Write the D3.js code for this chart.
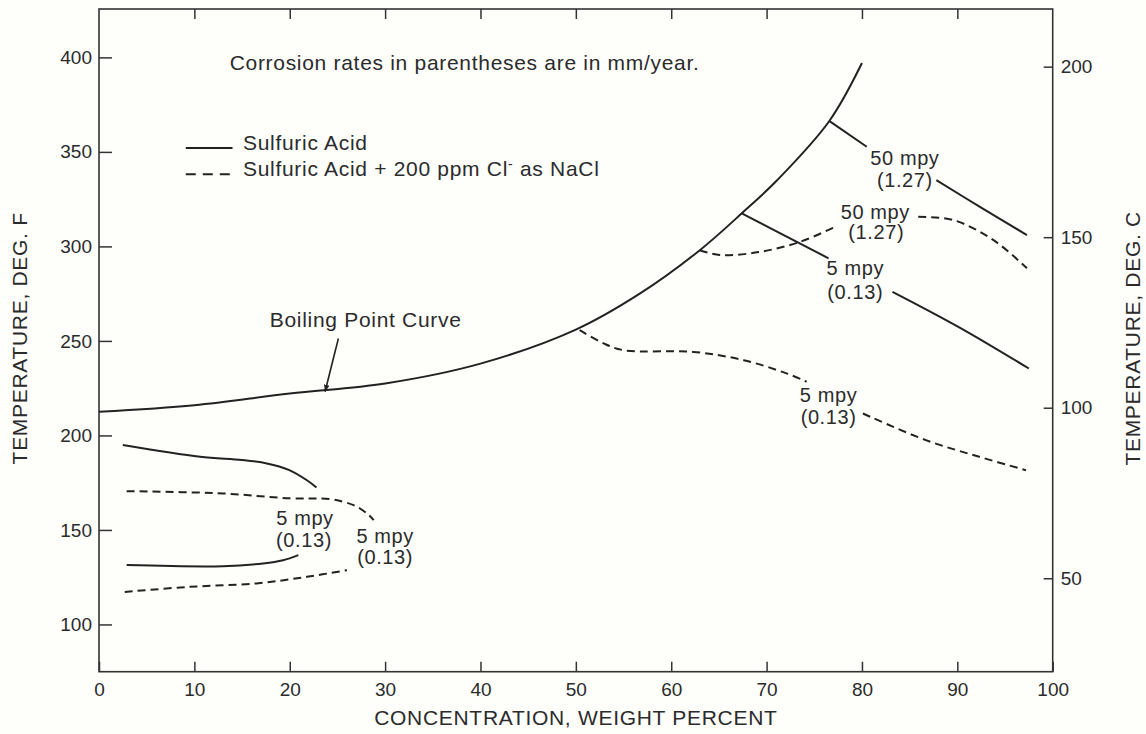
<!DOCTYPE html>
<html>
<meta http-equiv="content-type" content="text/html; charset=utf-8" />
<head>
    <title>Sulfuric acid corrosion</title>
</head>

<style>
body {
  margin: 0;
  background: #fefefb;
}
.chart text {
  font-family: "Liberation Sans", Arial, sans-serif;
  fill: #2b2b2b;
}
.axis text {
  font-size: 19px;
}
.axis path {
  display: none;
}
.axis line {
  stroke: #333;
  stroke-width: 1.5;
}
.frame {
  fill: none;
  stroke: #333;
  stroke-width: 1.6;
}
.curve {
  fill: none;
  stroke: #222;
  stroke-width: 2;
}
.curve.dashed {
  stroke-dasharray: 8,5;
}
.note {
  font-size: 20px;
  letter-spacing: 0.6px;
}
.title {
  font-size: 21px;
  letter-spacing: 0.7px;
}
</style>

<svg class="chart"></svg>
<script src="https://d3js.org/d3.v7.min.js"></script>

<script type="text/javascript">
// tick values
var concTicks = [0, 10, 20, 30, 40, 50, 60, 70, 80, 90, 100];
var topTicks = [10, 20, 30, 40, 50, 60, 70, 80, 90];
var tempFTicks = [100, 150, 200, 250, 300, 350, 400];
var tempCTicks = [50, 100, 150, 200];

// boiling point curve: concentration (wt %) -> temperature (deg F)
var boilConc = [0, 10, 20, 30, 40, 50, 56.7, 63, 67.4, 71.1, 76.6, 80];
var boilTemp = [212.5, 216, 222.2, 227.5, 238, 256, 275, 298, 317.5, 335, 366.5, 397];

// sulfuric acid iso-corrosion lines, [conc, deg F], split where the labels sit
var acid50a = [[76.6, 366.3], [80.5, 352.7]];
var acid50b = [[87.8, 335.1], [92.5, 320.5], [97.3, 306.0]];
var acid5a = [[67.4, 317.5], [76.5, 293.7]];
var acid5b = [[83.2, 276.0], [90.2, 257.2], [97.5, 235.4]];
var acidLowTop = [[2.5, 194.9], [10.6, 188.7], [15.0, 187.0], [17.6, 185.2], [19.9, 181.8], [21.8, 176.3], [22.8, 172.5]];
var acidLowBottom = [[2.9, 131.4], [13.0, 130.8], [17.2, 132.3], [19.3, 134.0], [20.9, 136.7]];

// sulfuric acid + 200 ppm Cl- lines
var chl50a = [[63.0, 298.0], [65.1, 295.4], [69.3, 297.1], [73.5, 302.4], [77.2, 310.4]];
var chl50b = [[85.9, 315.7], [89.6, 313.9], [93.8, 303.3], [97.3, 288.4]];
var chl5a = [[50.4, 255.7], [52.9, 248.7], [55.0, 245.1], [62.3, 244.2], [67.6, 239.8], [72.1, 232.8], [74.2, 228.4]];
var chl5b = [[80.1, 211.6], [86.7, 197.5], [92.3, 188.7], [97.2, 181.6]];
var chlLowTop = [[2.9, 170.5], [13.0, 169.3], [20.0, 166.7], [24.2, 166.3], [26.7, 163.1], [28.1, 158.7], [28.8, 155.2]];
var chlLowBottom = [[2.7, 117.2], [9.5, 119.9], [16.5, 121.7], [21.8, 125.2], [26.0, 128.7]];

// rate labels: [conc, deg F, line1, line2 conc, line2 deg F, line2]
var rateLabels = [
  [84.5, 346.6, "50 mpy", 84.5, 335.1, "(1.27)"],
  [81.4, 318.3, "50 mpy", 81.5, 307.7, "(1.27)"],
  [79.3, 288.4, "5 mpy", 79.3, 276.0, "(0.13)"],
  [76.5, 221.3, "5 mpy", 76.5, 209.8, "(0.13)"],
  [21.6, 156.1, "5 mpy", 21.5, 144.6, "(0.13)"],
  [30.0, 146.7, "5 mpy", 30.0, 135.8, "(0.13)"]
];

var margin = {top: 9, right: 93.3, bottom: 62.3, left: 99},
    width = 1146 - margin.left - margin.right,
    height = 734 - margin.top - margin.bottom;

var x = d3.scaleLinear().domain([0, 100]).range([0, width]);
var y = d3.scaleLinear().domain([75, 425.6]).range([height, 0]);
// the printed C scale sits a few px above the exact conversion
var yC = d3.scaleLinear().domain([22.6, 216.9]).range([height, 0]);

var svg = d3.select(".chart")
    .attr("width", 1146)
    .attr("height", 734);

svg.append("defs").append("marker")
    .attr("id", "arrow")
    .attr("viewBox", "0 0 10 10")
    .attr("refX", 10)
    .attr("refY", 5)
    .attr("markerWidth", 7)
    .attr("markerHeight", 7)
    .attr("markerUnits", "userSpaceOnUse")
    .attr("orient", "auto")
  .append("path")
    .attr("d", "M0,1 L10,5 L0,9 Z")
    .attr("fill", "#222");

var chart = svg.append("g")
    .attr("transform", "translate(" + margin.left + "," + margin.top + ")");

chart.append("rect")
    .attr("class", "frame")
    .attr("width", width)
    .attr("height", height);

chart.append("g")
    .attr("class", "axis")
    .attr("transform", "translate(0," + height + ")")
    .call(d3.axisBottom(x).tickValues(concTicks).tickSizeInner(-10).tickSizeOuter(0).tickPadding(11));

chart.append("g")
    .attr("class", "axis")
    .call(d3.axisTop(x).tickValues(topTicks).tickSizeInner(-10).tickSizeOuter(0).tickFormat(""));

chart.append("g")
    .attr("class", "axis")
    .call(d3.axisLeft(y).tickValues(tempFTicks).tickSizeInner(-13).tickSizeOuter(0).tickPadding(7));

chart.append("g")
    .attr("class", "axis")
    .attr("transform", "translate(" + width + ",0)")
    .call(d3.axisRight(yC).tickValues(tempCTicks).tickSizeInner(-9).tickSizeOuter(0).tickPadding(8));

// axis titles
chart.append("text")
    .attr("class", "title")
    .attr("x", width / 2)
    .attr("y", height + 46)
    .attr("dy", ".35em")
    .style("text-anchor", "middle")
    .text("CONCENTRATION, WEIGHT PERCENT");

chart.append("text")
    .attr("class", "title")
    .attr("transform", "translate(-79," + (height / 2 - 2) + ") rotate(-90)")
    .attr("dy", ".35em")
    .style("text-anchor", "middle")
    .text("TEMPERATURE, DEG. F");

chart.append("text")
    .attr("class", "title")
    .attr("transform", "translate(" + (width + 80) + "," + (height / 2 - 2) + ") rotate(-90)")
    .attr("dy", ".35em")
    .style("text-anchor", "middle")
    .text("TEMPERATURE, DEG. C");

var line = d3.line()
    .x(function(d) { return x(d[0]); })
    .y(function(d) { return y(d[1]); })
    .curve(d3.curveCatmullRom.alpha(0.5));

var boiling = boilConc.map(function(c, i) { return [c, boilTemp[i]]; });

chart.append("path")
    .attr("class", "curve")
    .attr("d", line(boiling));

[acid50a, acid50b, acid5a, acid5b, acidLowTop, acidLowBottom].forEach(function(seg) {
  chart.append("path")
      .attr("class", "curve")
      .attr("d", line(seg));
});

[chl50a, chl50b, chl5a, chl5b, chlLowTop, chlLowBottom].forEach(function(seg) {
  chart.append("path")
      .attr("class", "curve dashed")
      .attr("d", line(seg));
});

rateLabels.forEach(function(d) {
  chart.append("text")
      .attr("class", "note")
      .attr("x", x(d[0]))
      .attr("y", y(d[1]))
      .attr("dy", ".35em")
      .style("text-anchor", "middle")
      .text(d[2]);
  chart.append("text")
      .attr("class", "note")
      .attr("x", x(d[3]))
      .attr("y", y(d[4]))
      .attr("dy", ".35em")
      .style("text-anchor", "middle")
      .text(d[5]);
});

// boiling point label and arrow
chart.append("text")
    .attr("class", "title")
    .attr("x", x(17.9))
    .attr("y", y(261.1))
    .attr("dy", ".35em")
    .text("Boiling Point Curve");

chart.append("line")
    .attr("x1", x(25.1))
    .attr("y1", y(251.3))
    .attr("x2", x(23.7))
    .attr("y2", y(223.1))
    .attr("stroke", "#222")
    .attr("stroke-width", 1.6)
    .attr("marker-end", "url(#arrow)");

chart.append("text")
    .attr("class", "title")
    .attr("x", x(13.7))
    .attr("y", y(397))
    .attr("dy", ".35em")
    .text("Corrosion rates in parentheses are in mm/year.");

// legend
chart.append("line")
    .attr("class", "curve")
    .attr("x1", x(9.1)).attr("x2", x(14.0))
    .attr("y1", y(352)).attr("y2", y(352));

chart.append("line")
    .attr("class", "curve")
    .attr("stroke-dasharray", "10,7")
    .attr("x1", x(9.1)).attr("x2", x(14.0))
    .attr("y1", y(338.2)).attr("y2", y(338.2));

chart.append("text")
    .attr("class", "title")
    .attr("x", x(15.1))
    .attr("y", y(355))
    .attr("dy", ".35em")
    .text("Sulfuric Acid");

var leg2 = chart.append("text")
    .attr("class", "title")
    .attr("x", x(15.1))
    .attr("y", y(341))
    .attr("dy", ".35em");
leg2.append("tspan").text("Sulfuric Acid + 200 ppm Cl");
leg2.append("tspan").attr("dy", -7).style("font-size", "14px").text("-");
leg2.append("tspan").attr("dy", 7).text(" as NaCl");
</script>

</html>
